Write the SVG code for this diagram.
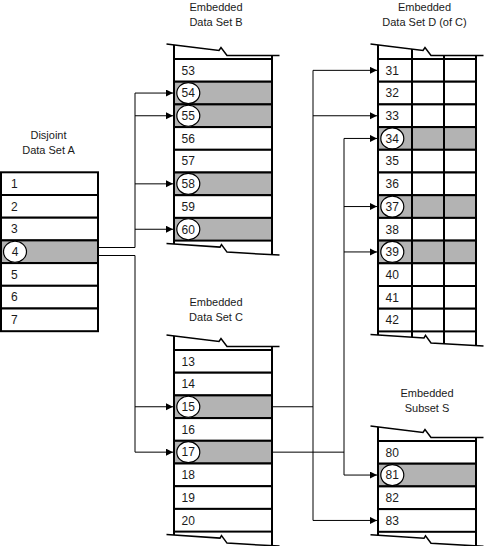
<svg xmlns="http://www.w3.org/2000/svg" width="484" height="546" viewBox="0 0 484 546">
<style>
  .bg{fill:#fff}
  .row{fill:#fff;stroke:#000;stroke-width:2}
  .sel{fill:#b3b3b3;stroke:#000;stroke-width:2}
  .side{stroke:#000;stroke-width:2;fill:none}
  .brk{stroke:#000;stroke-width:1.5;fill:none;stroke-linejoin:miter}
  .num{font-family:"Liberation Sans",Arial,sans-serif;font-size:12px;fill:#1a1a1a}
  .cnum{font-family:"Liberation Sans",Arial,sans-serif;font-size:12px;fill:#1a1a1a;text-anchor:middle}
  .circ{fill:#fff;stroke:#000;stroke-width:1.2}
  .title{font-family:"Liberation Sans",Arial,sans-serif;font-size:11px;fill:#1a1a1a;text-anchor:middle}
  .con{stroke:#000;stroke-width:1;fill:none}
  .arr{stroke:#000;stroke-width:1;fill:none;marker-end:url(#ah)}
</style>
<defs>
  <marker id="ah" markerWidth="8" markerHeight="8" refX="7" refY="3.5" orient="auto" markerUnits="userSpaceOnUse">
    <path d="M0,0 L7,3.5 L0,7 z" fill="#000"/>
  </marker>
  <path id="brkTop" d="M-7.5,-15 L45,-8.5 L47,-11.5 L53,-3.5 L105.5,-3.5"/>
  <path id="brkBot" d="M-7.5,3 L46,6.5 L47.5,4 L53,11.5 L105.5,14.5"/>
</defs>
<rect class="bg" x="0" y="0" width="484" height="546"/>

<!-- Set A -->
<g id="setA">
  <text class="title" x="48.5" y="138.5">Disjoint</text>
  <text class="title" x="48.5" y="153.5">Data Set A</text>
  <g transform="translate(1,172.3)">
    <rect class="row" x="0" y="0" width="97" height="22.7"/>
    <rect class="row" x="0" y="22.7" width="97" height="22.7"/>
    <rect class="row" x="0" y="45.4" width="97" height="22.7"/>
    <rect class="sel" x="0" y="68.1" width="97" height="22.7"/>
    <rect class="row" x="0" y="90.8" width="97" height="22.7"/>
    <rect class="row" x="0" y="113.5" width="97" height="22.7"/>
    <rect class="row" x="0" y="136.2" width="97" height="22.7"/>
    <text class="num" x="10" y="15.6">1</text>
    <text class="num" x="10" y="38.3">2</text>
    <text class="num" x="10" y="61">3</text>
    <ellipse class="circ" cx="14" cy="79.45" rx="11.5" ry="10.5"/>
    <text class="cnum" x="14" y="83.7">4</text>
    <text class="num" x="10" y="106.4">5</text>
    <text class="num" x="10" y="129.1">6</text>
    <text class="num" x="10" y="151.8">7</text>
  </g>
</g>

<!-- Set B -->
<g id="setB">
  <text class="title" x="216" y="10.5">Embedded</text>
  <text class="title" x="216" y="25.5">Data Set B</text>
  <g transform="translate(174,59)">
    <rect class="row" x="0" y="0" width="98" height="22.7"/>
    <rect class="sel" x="0" y="22.7" width="98" height="22.7"/>
    <rect class="sel" x="0" y="45.4" width="98" height="22.7"/>
    <rect class="row" x="0" y="68.1" width="98" height="22.7"/>
    <rect class="row" x="0" y="90.8" width="98" height="22.7"/>
    <rect class="sel" x="0" y="113.5" width="98" height="22.7"/>
    <rect class="row" x="0" y="136.2" width="98" height="22.7"/>
    <rect class="sel" x="0" y="158.9" width="98" height="22.7"/>
    <line class="side" x1="0" y1="-14.1" x2="0" y2="185.1"/>
    <line class="side" x1="98" y1="-3.5" x2="98" y2="195.7"/>
    <use href="#brkTop" class="brk"/>
    <use href="#brkBot" class="brk" transform="translate(0,181.6)"/>
    <text class="num" x="7.5" y="15.6">53</text>
    <ellipse class="circ" cx="14.3" cy="34.05" rx="11.5" ry="10.5"/>
    <text class="cnum" x="14.3" y="38.3">54</text>
    <ellipse class="circ" cx="14.3" cy="56.75" rx="11.5" ry="10.5"/>
    <text class="cnum" x="14.3" y="61">55</text>
    <text class="num" x="7.5" y="83.7">56</text>
    <text class="num" x="7.5" y="106.4">57</text>
    <ellipse class="circ" cx="14.3" cy="124.85" rx="11.5" ry="10.5"/>
    <text class="cnum" x="14.3" y="129.1">58</text>
    <text class="num" x="7.5" y="151.8">59</text>
    <ellipse class="circ" cx="14.3" cy="170.25" rx="11.5" ry="10.5"/>
    <text class="cnum" x="14.3" y="174.5">60</text>
  </g>
</g>

<!-- Set C -->
<g id="setC">
  <text class="title" x="216" y="305.5">Embedded</text>
  <text class="title" x="216" y="320.5">Data Set C</text>
  <g transform="translate(174,350)">
    <rect class="row" x="0" y="0" width="98" height="22.7"/>
    <rect class="row" x="0" y="22.7" width="98" height="22.7"/>
    <rect class="sel" x="0" y="45.4" width="98" height="22.7"/>
    <rect class="row" x="0" y="68.1" width="98" height="22.7"/>
    <rect class="sel" x="0" y="90.8" width="98" height="22.7"/>
    <rect class="row" x="0" y="113.5" width="98" height="22.7"/>
    <rect class="row" x="0" y="136.2" width="98" height="22.7"/>
    <rect class="row" x="0" y="158.9" width="98" height="22.7"/>
    <line class="side" x1="0" y1="-14.1" x2="0" y2="185.1"/>
    <line class="side" x1="98" y1="-3.5" x2="98" y2="195.7"/>
    <use href="#brkTop" class="brk"/>
    <use href="#brkBot" class="brk" transform="translate(0,181.6)"/>
    <text class="num" x="7.5" y="15.6">13</text>
    <text class="num" x="7.5" y="38.3">14</text>
    <ellipse class="circ" cx="14.3" cy="56.75" rx="11.5" ry="10.5"/>
    <text class="cnum" x="14.3" y="61">15</text>
    <text class="num" x="7.5" y="83.7">16</text>
    <ellipse class="circ" cx="14.3" cy="102.15" rx="11.5" ry="10.5"/>
    <text class="cnum" x="14.3" y="106.4">17</text>
    <text class="num" x="7.5" y="129.1">18</text>
    <text class="num" x="7.5" y="151.8">19</text>
    <text class="num" x="7.5" y="174.5">20</text>
  </g>
</g>

<!-- Set D -->
<g id="setD">
  <text class="title" x="424.5" y="10.5">Embedded</text>
  <text class="title" x="424.5" y="25.5">Data Set D (of C)</text>
  <g transform="translate(378,59)">
    <rect class="row" x="0" y="0" width="98" height="22.7"/>
    <rect class="row" x="0" y="22.7" width="98" height="22.7"/>
    <rect class="row" x="0" y="45.4" width="98" height="22.7"/>
    <rect class="sel" x="0" y="68.1" width="98" height="22.7"/>
    <rect class="row" x="0" y="90.8" width="98" height="22.7"/>
    <rect class="row" x="0" y="113.5" width="98" height="22.7"/>
    <rect class="sel" x="0" y="136.2" width="98" height="22.7"/>
    <rect class="row" x="0" y="158.9" width="98" height="22.7"/>
    <rect class="sel" x="0" y="181.6" width="98" height="22.7"/>
    <rect class="row" x="0" y="204.3" width="98" height="22.7"/>
    <rect class="row" x="0" y="227" width="98" height="22.7"/>
    <rect class="row" x="0" y="249.7" width="98" height="22.7"/>
    <line class="side" x1="0" y1="-14.1" x2="0" y2="275.9"/>
    <line class="side" x1="34" y1="-9.9" x2="34" y2="278.1"/>
    <line class="side" x1="66" y1="-3.5" x2="66" y2="284.6"/>
    <line class="side" x1="98" y1="-3.5" x2="98" y2="286.5"/>
    <use href="#brkTop" class="brk"/>
    <use href="#brkBot" class="brk" transform="translate(0,272.4)"/>
    <text class="num" x="7.5" y="15.6">31</text>
    <text class="num" x="7.5" y="38.3">32</text>
    <text class="num" x="7.5" y="61">33</text>
    <ellipse class="circ" cx="14.3" cy="79.45" rx="11.5" ry="10.5"/>
    <text class="cnum" x="14.3" y="83.7">34</text>
    <text class="num" x="7.5" y="106.4">35</text>
    <text class="num" x="7.5" y="129.1">36</text>
    <ellipse class="circ" cx="14.3" cy="147.55" rx="11.5" ry="10.5"/>
    <text class="cnum" x="14.3" y="151.8">37</text>
    <text class="num" x="7.5" y="174.5">38</text>
    <ellipse class="circ" cx="14.3" cy="192.95" rx="11.5" ry="10.5"/>
    <text class="cnum" x="14.3" y="197.2">39</text>
    <text class="num" x="7.5" y="219.9">40</text>
    <text class="num" x="7.5" y="242.6">41</text>
    <text class="num" x="7.5" y="265.3">42</text>
  </g>
</g>

<!-- Set S -->
<g id="setS">
  <text class="title" x="427" y="396.5">Embedded</text>
  <text class="title" x="427" y="411.5">Subset S</text>
  <g transform="translate(378,441)">
    <rect class="row" x="0" y="0" width="98" height="22.7"/>
    <rect class="sel" x="0" y="22.7" width="98" height="22.7"/>
    <rect class="row" x="0" y="45.4" width="98" height="22.7"/>
    <rect class="row" x="0" y="68.1" width="98" height="22.7"/>
    <line class="side" x1="0" y1="-14.1" x2="0" y2="94.3"/>
    <line class="side" x1="98" y1="-3.5" x2="98" y2="104.9"/>
    <use href="#brkTop" class="brk"/>
    <use href="#brkBot" class="brk" transform="translate(0,90.8)"/>
    <text class="num" x="7.5" y="15.6">80</text>
    <ellipse class="circ" cx="14.3" cy="34.05" rx="11.5" ry="10.5"/>
    <text class="cnum" x="14.3" y="38.3">81</text>
    <text class="num" x="7.5" y="61">82</text>
    <text class="num" x="7.5" y="83.7">83</text>
  </g>
</g>

<!-- Connectors -->
<g id="connectors">
  <path class="con" d="M98,247.5 H135 V93.05"/>
  <path class="arr" d="M135,93.05 H173"/>
  <path class="arr" d="M135,115.75 H173"/>
  <path class="arr" d="M135,183.85 H173"/>
  <path class="arr" d="M135,229.25 H173"/>
  <path class="con" d="M98,255.5 H135 V452.15"/>
  <path class="arr" d="M135,406.75 H173"/>
  <path class="arr" d="M135,452.15 H173"/>
  <path class="con" d="M272,406.75 H313"/>
  <path class="con" d="M313,70.35 V520.45"/>
  <path class="arr" d="M313,70.35 H377"/>
  <path class="arr" d="M313,115.75 H377"/>
  <path class="arr" d="M313,520.45 H377"/>
  <path class="con" d="M272,452.15 H344"/>
  <path class="con" d="M344,138.45 V475.05"/>
  <path class="arr" d="M344,138.45 H377"/>
  <path class="arr" d="M344,206.55 H377"/>
  <path class="arr" d="M344,251.95 H377"/>
  <path class="arr" d="M344,475.05 H377"/>
</g>
</svg>
